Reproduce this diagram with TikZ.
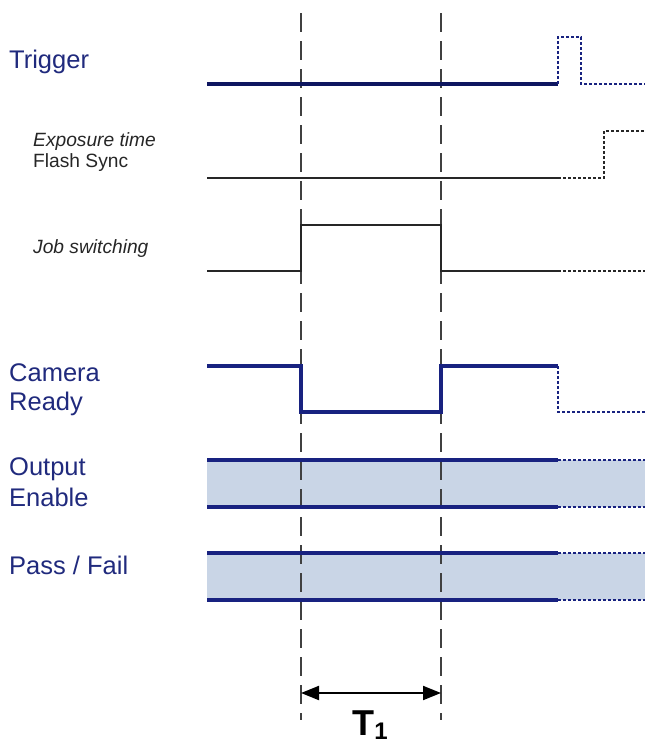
\documentclass[tikz,border=0pt]{standalone}
\usepackage{fontspec}
\setmainfont{Liberation Sans}
\usetikzlibrary{arrows.meta}
\definecolor{sigblue}{RGB}{24,34,128}
\definecolor{trigblue}{RGB}{14,22,96}
\definecolor{txtblue}{RGB}{32,42,125}
\definecolor{bandfill}{RGB}{201,213,230}
\tikzset{
  biglabel/.style={anchor=base west,inner sep=0pt,text=txtblue,font=\fontsize{25.5}{30}\selectfont},
  smalllabel/.style={anchor=base west,inner sep=0pt,text=black!85,font=\fontsize{19.2}{22}\selectfont},
  guide/.style={draw=black!75,line width=1.2pt,dash pattern=on 19pt off 9pt},
  bluesig/.style={draw=sigblue,line width=3.2pt},
  blacksig/.style={draw=black!85,line width=2.6pt},
  thinsig/.style={draw=black!85,line width=1.8pt},
  dotsig/.style={line width=2.2pt,dash pattern=on 3pt off 2pt},
  band/.style={fill=bandfill,draw=none},
  dimarrow/.style={line width=2pt,{Triangle[length=18pt,width=14pt]}-{Triangle[length=18pt,width=14pt]}}
}
\begin{document}
\begin{tikzpicture}[x=1pt,y=-1pt]
\useasboundingbox (0,0) rectangle (645,747);
% bands
\fill[band] (207,460) rectangle (645,507);
\fill[band] (207,553) rectangle (645,600);
% guide lines
\coordinate (gA1) at (301,13);
\coordinate (gA2) at (301,720);
\coordinate (gB1) at (441,13);
\coordinate (gB2) at (441,720);
\draw[guide] (gA1) -- (gA2);
\draw[guide] (gB1) -- (gB2);
% labels
\node[biglabel] (trig) at (9,68) {Trigger};
\node[smalllabel] (expo) at (33,146) {\itshape Exposure time};
\node[smalllabel] (flash) at (33,167) {Flash Sync};
\node[smalllabel] (job) at (33,253) {\itshape Job switching};
\node[biglabel] (cam) at (9,381) {Camera};
\node[biglabel] (ready) at (9,410) {Ready};
\node[biglabel] (outp) at (9,475) {Output};
\node[biglabel] (enab) at (9,506) {Enable};
\node[biglabel] (pf) at (9,574) {Pass / Fail};
% Trigger
\draw[draw=trigblue,line width=3.4pt] (207,84) -- (558,84);
\draw[dotsig,draw=sigblue] (558,84) -- (558,37) -- (581,37) -- (581,84) -- (645,84);
% Exposure / Flash
\draw[blacksig] (207,178) -- (558,178);
\draw[dotsig,draw=black!85] (558,178) -- (604,178) -- (604,131) -- (645,131);
% Job switching
\draw[thinsig] (207,271) -- (301,271) -- (301,225) -- (441,225) -- (441,271) -- (558,271);
\draw[dotsig,draw=black!85,line width=1.8pt] (558,271) -- (645,271);
% Camera ready
\draw[bluesig] (207,366) -- (301,366) -- (301,412) -- (441,412) -- (441,366) -- (558,366);
\draw[dotsig,draw=sigblue] (558,366) -- (558,412) -- (645,412);
% Output enable
\draw[bluesig] (207,460) -- (558,460);
\draw[bluesig] (207,507) -- (558,507);
\draw[dotsig,draw=sigblue] (558,460) -- (645,460);
\draw[dotsig,draw=sigblue] (558,507) -- (645,507);
% Pass / Fail
\draw[bluesig] (207,553) -- (558,553);
\draw[bluesig] (207,600) -- (558,600);
\draw[dotsig,draw=sigblue] (558,553) -- (645,553);
\draw[dotsig,draw=sigblue] (558,600) -- (645,600);
% T1
\coordinate (arL) at (301,693);
\coordinate (arR) at (441,693);
\draw[dimarrow] (arL) -- (arR);
\node[anchor=base,inner sep=0pt,font=\bfseries\fontsize{36}{40}\selectfont] (t1) at (370,735) {T\raisebox{-0.12em}{\fontsize{24}{26}\selectfont 1}};
\end{tikzpicture}
\end{document}
